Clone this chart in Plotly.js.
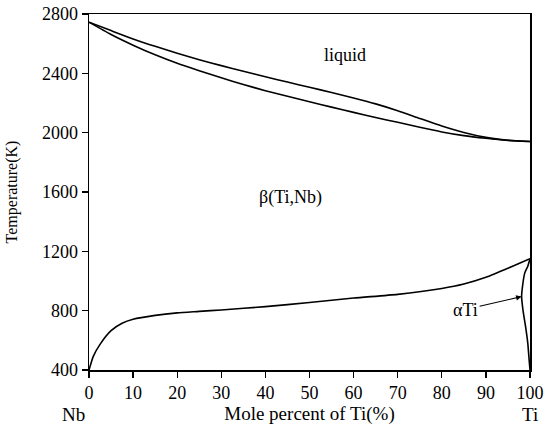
<!DOCTYPE html>
<html>
<head>
<meta charset="utf-8">
<script src="https://cdn.plot.ly/plotly-3.0.1.min.js"></script>
<style>
  html, body { margin: 0; padding: 0; background: #ffffff; }
  #chart { width: 550px; height: 432px; }
</style>
</head>
<body>
<div id="chart"></div>
<script>
  // Ti-Nb phase diagram
  var liquidusX = [0, 5, 10, 15, 20, 25, 30, 35, 40, 45, 50, 55, 60, 65, 70, 75, 80, 85, 90, 95, 100];
  var liquidusT = [2745, 2688, 2632, 2582, 2535, 2492, 2452, 2414, 2377, 2341, 2306, 2271, 2234, 2194, 2148, 2096, 2045, 2001, 1968, 1949, 1940];

  var solidusX = [0, 5, 10, 15, 20, 25, 30, 35, 40, 45, 50, 55, 60, 65, 70, 75, 80, 85, 90, 95, 100];
  var solidusT = [2745, 2662, 2590, 2525, 2468, 2418, 2370, 2325, 2283, 2245, 2208, 2172, 2137, 2102, 2070, 2036, 2005, 1980, 1962, 1948, 1940];

  var transusX = [0, 1, 2.5, 5, 7.5, 10, 15, 20, 25, 30, 40, 50, 60, 70, 80, 85, 90, 95, 98, 100];
  var transusT = [400, 494, 573, 665, 715, 742, 768, 785, 795, 805, 827, 855, 885, 910, 950, 980, 1025, 1086, 1125, 1150];

  var alphaX = [100, 99.5, 98.8, 98.3, 98.1, 98.4, 99.0, 99.5, 99.8, 100];
  var alphaT = [1150, 1100, 1053, 963, 895, 805, 692, 580, 470, 400];

  var yTicks = [400, 800, 1200, 1600, 2000, 2400, 2800];
  var xTicks = [0, 10, 20, 30, 40, 50, 60, 70, 80, 90, 100];

  var serif = '"Liberation Serif", "Times New Roman", serif';
  var ink = '#000000';

  function curve(x, y) {
    return {
      x: x,
      y: y,
      type: 'scatter',
      mode: 'lines',
      line: { color: ink, width: 1.6, shape: 'spline', smoothing: 0.6 },
      hoverinfo: 'skip',
    };
  }

  function label(size) {
    return { family: serif, size: size, color: ink };
  }

  var axisCommon = {
    showgrid: false,
    zeroline: false,
    showline: true,
    mirror: true,
    linecolor: ink,
    linewidth: 1.5,
    ticks: 'outside',
    ticklen: 6,
    tickwidth: 1.3,
    tickcolor: ink,
    tickfont: label(18),
  };

  var layout = {
    width: 550,
    height: 432,
    margin: { t: 14, r: 20, b: 62, l: 89 },
    paper_bgcolor: '#ffffff',
    plot_bgcolor: '#ffffff',
    font: label(18),
    showlegend: false,
    xaxis: Object.assign({}, axisCommon, {
      range: [0, 100],
      tickvals: xTicks,
      title: { text: 'Mole percent of Ti(%)', font: label(19), standoff: 2 },
    }),
    yaxis: Object.assign({}, axisCommon, {
      range: [400, 2800],
      tickvals: yTicks,
      title: { text: 'Temperature(K)', font: label(16), standoff: 20 },
    }),
    annotations: [
      { x: 58, y: 2521, xref: 'x', yref: 'y', text: 'liquid', showarrow: false, font: label(18) },
      { x: 45.7, y: 1560, xref: 'x', yref: 'y', text: 'β(Ti,Nb)', showarrow: false, font: label(18) },
      {
        x: 98.1, y: 895, xref: 'x', yref: 'y', text: 'αTi',
        showarrow: true, arrowhead: 2, arrowsize: 1, arrowwidth: 1.1, arrowcolor: ink,
        ax: -56, ay: 13, standoff: 0,
        font: label(18),
      },
      { x: 0, y: -0.125, xref: 'paper', yref: 'paper', text: 'Nb', showarrow: false, xanchor: 'center', yanchor: 'middle', xshift: -16, font: label(19) },
      { x: 1, y: -0.125, xref: 'paper', yref: 'paper', text: 'Ti', showarrow: false, xanchor: 'center', yanchor: 'middle', font: label(19) },
    ],
  };

  Plotly.newPlot(
    'chart',
    [
      curve(liquidusX, liquidusT),
      curve(solidusX, solidusT),
      curve(transusX, transusT),
      curve(alphaX, alphaT),
    ],
    layout,
    { displayModeBar: false, staticPlot: true }
  );
</script>
</body>
</html>
